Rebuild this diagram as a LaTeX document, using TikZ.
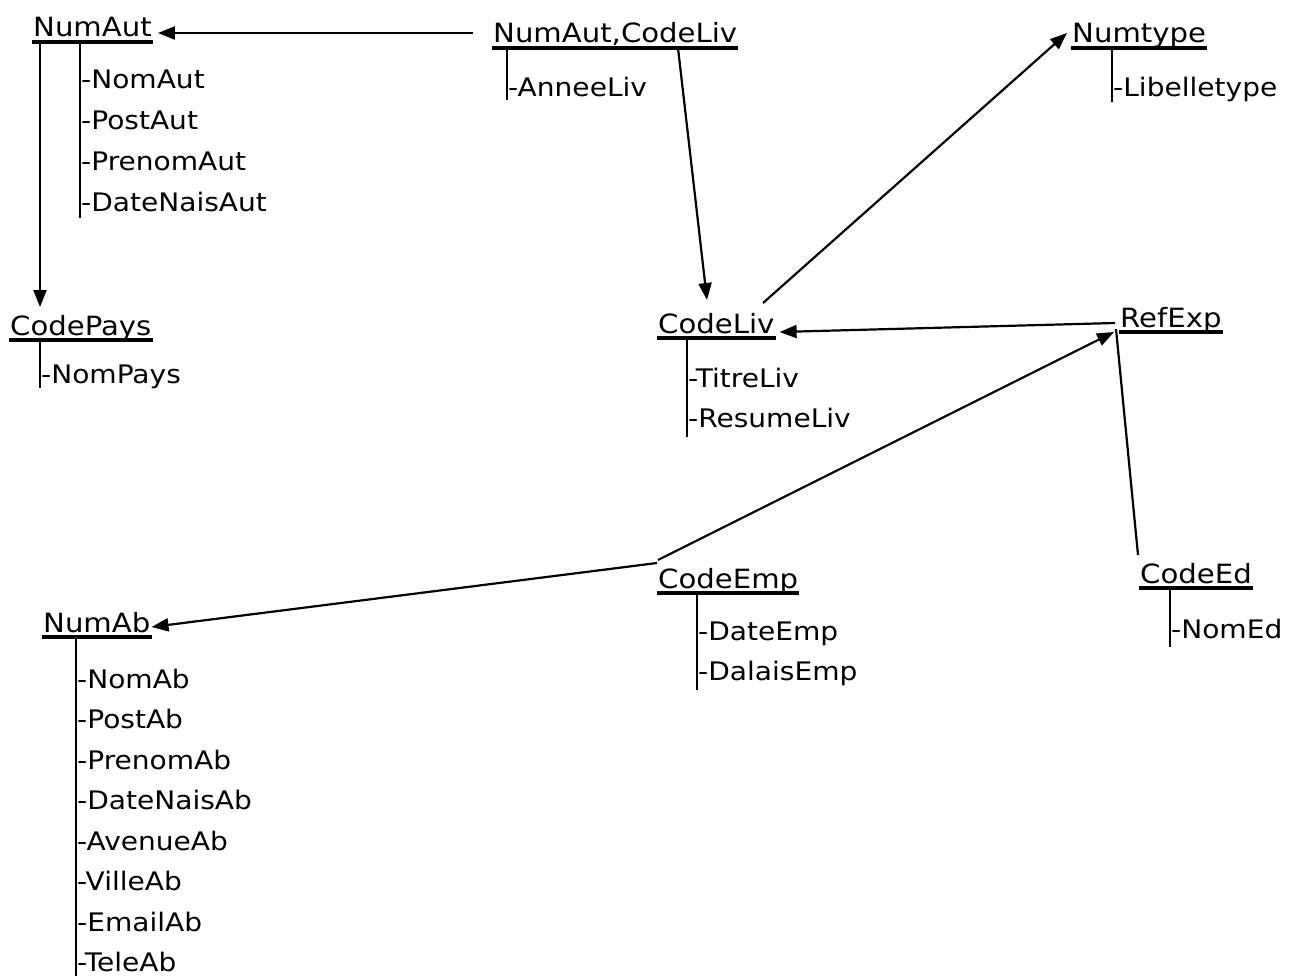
\documentclass[tikz,border=0pt]{standalone}
\usepackage{fontspec}
\setmainfont{DejaVu Sans}[FakeStretch=1.1]
\usetikzlibrary{arrows.meta}

\tikzset{
  head/.style={anchor=base west, inner sep=0pt, font=\fontsize{26.5}{30}\selectfont},
  attr/.style={anchor=base west, inner sep=0pt, font=\fontsize{25.5}{29}\selectfont},
  uline/.style={line width=3.2pt},
  stem/.style={line width=1.1pt},
  link/.style={line width=2.2pt, -{Triangle[length=17pt,width=13pt]}},
  plain link/.style={line width=2.2pt}
}

% underline below a key name
\newcommand{\keyline}[1]{\draw[uline] ([shift={(-1pt,-5pt)}]#1.base west) -- ([shift={(1pt,-5pt)}]#1.base east);}

\begin{document}
\begin{tikzpicture}[x=1pt,y=-1pt]
\useasboundingbox (0,0) rectangle (1292,976);

% ---------- key names ----------
\node[head] (numaut)   at (33,37)    {NumAut};
\node[head] (numcode)  at (493,43)   {NumAut,CodeLiv};
\node[head] (numtype)  at (1072,43)  {Numtype};
\node[head] (codepays) at (10,335)   {CodePays};
\node[head] (codeliv)  at (658,333)  {CodeLiv};
\node[head] (refexp)   at (1120,327) {RefExp};
\node[head] (codeemp)  at (658,588)  {CodeEmp};
\node[head] (codeed)   at (1140,583) {CodeEd};
\node[head] (numab)    at (43,632)   {NumAb};

\foreach \n in {numaut,numcode,numtype,codepays,codeliv,refexp,codeemp,codeed,numab}
  {\keyline{\n}}

% ---------- attribute stems ----------
\draw[stem] ([shift={(47pt,-5pt)}]numaut.base west)   -- ++(0,176);
\draw[stem] ([shift={(14pt,-5pt)}]numcode.base west)  -- ++(0,52);
\draw[stem] ([shift={(40pt,-5pt)}]numtype.base west)  -- ++(0,54);
\draw[stem] ([shift={(30pt,-5pt)}]codepays.base west) -- ++(0,48);
\draw[stem] ([shift={(29pt,-5pt)}]codeliv.base west)  -- ++(0,99);
\draw[stem] ([shift={(39pt,-5pt)}]codeemp.base west)  -- ++(0,97);
\draw[stem] ([shift={(30pt,-5pt)}]codeed.base west)   -- ++(0,59);
\draw[stem] ([shift={(33pt,-5pt)}]numab.base west)    -- ++(0,339);

% ---------- attributes ----------
\foreach \t [count=\i] in {NomAut,PostAut,PrenomAut,DateNaisAut}
  \node[attr] (numaut-a\i) at (81,{89+41*(\i-1)}) {-\t};
\node[attr] (numcode-a1)  at (508,97)  {-AnneeLiv};
\node[attr] (numtype-a1)  at (1113,97) {-Libelletype};
\node[attr] (codepays-a1) at (41,383)  {-NomPays};
\node[attr] (codeliv-a1)  at (688,387) {-TitreLiv};
\node[attr] (codeliv-a2)  at (688,427) {-ResumeLiv};
\node[attr] (codeemp-a1)  at (698,640) {-DateEmp};
\node[attr] (codeemp-a2)  at (698,680) {-DalaisEmp};
\node[attr] (codeed-a1)   at (1171,638) {-NomEd};
\foreach \t [count=\i] in {NomAb,PostAb,PrenomAb,DateNaisAb,AvenueAb,VilleAb,EmailAb,TeleAb}
  \node[attr] (numab-a\i) at (77,{688+40.5*(\i-1)}) {-\t};

% ---------- references ----------
\draw[link] ([shift={(-20pt,10pt)}]numcode.base west) -- ([shift={(6pt,4pt)}]numaut.base east);
\draw[link] ([shift={(7pt,-7pt)}]numaut.base west)    -- ([shift={(30pt,28pt)}]codepays.base west);
\draw[link] ([shift={(185pt,-5pt)}]numcode.base west) -- ([shift={(49pt,33pt)}]codeliv.base west);
\draw[link] ([shift={(105pt,30pt)}]codeliv.base west) -- ([shift={(-5pt,10pt)}]numtype.base west);
\draw[link] ([shift={(-5pt,4pt)}]refexp.base west)    -- ([shift={(5pt,1pt)}]codeliv.base east);
\draw[link] ([shift={(0pt,28pt)}]codeemp.base west)   -- ([shift={(-6pt,-5pt)}]refexp.base west);
\draw[plain link] ([shift={(-4pt,-2pt)}]refexp.base west) -- ([shift={(-2pt,28pt)}]codeed.base west);
\draw[link] ([shift={(-1pt,25pt)}]codeemp.base west)  -- ([shift={(1pt,5pt)}]numab.base east);

\end{tikzpicture}
\end{document}
